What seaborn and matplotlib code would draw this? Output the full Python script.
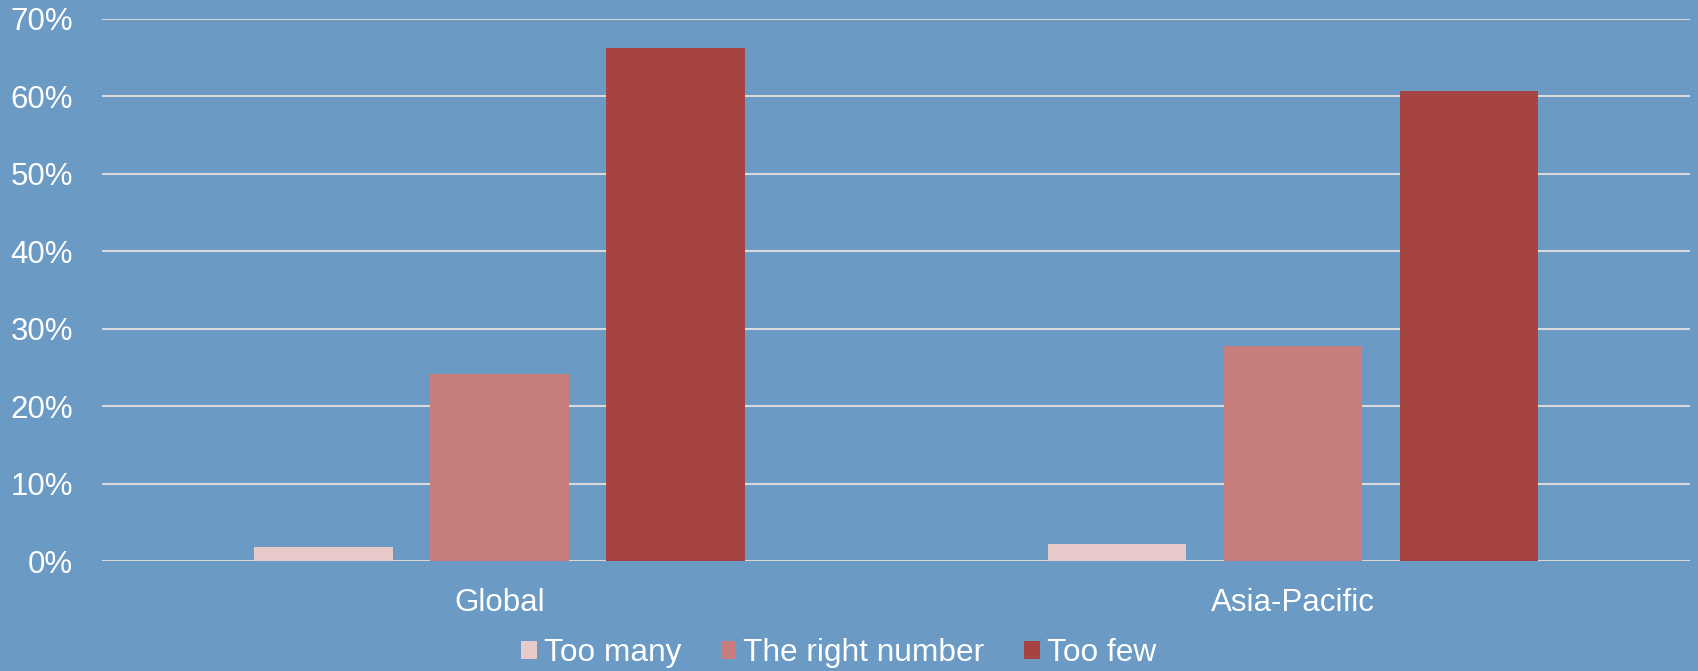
import matplotlib
matplotlib.use("Agg")
import matplotlib.pyplot as plt
from matplotlib.ticker import PercentFormatter, MultipleLocator
import seaborn as sns
import pandas as pd

# Survey results: share of respondents by region
regions = ["Global", "Asia-Pacific"]
answers = ["Too many", "The right number", "Too few"]
too_many = [0.019, 0.0225]
right_number = [0.242, 0.278]
too_few = [0.663, 0.607]
palette = ["#E8CACA", "#C97E7E", "#A64442"]

df = pd.DataFrame({
    "region": regions * 3,
    "answer": [a for a in answers for _ in regions],
    "share": too_many + right_number + too_few,
})

bg = "#6B9AC4"
sns.set_theme(style="white")
plt.rcParams["font.family"] = ["Liberation Sans", "DejaVu Sans"]

fig = plt.figure(figsize=(16.98, 6.71), dpi=100, facecolor=bg)
ax = fig.add_axes([0.0603, 0.1632, 0.9350, 0.8085])
ax.set_facecolor(bg)

sns.barplot(data=df, x="region", y="share", hue="answer",
            hue_order=answers, order=regions, palette=palette,
            width=0.665, gap=0.213, saturation=1, ax=ax, zorder=3,
            linewidth=0)

ax.set_xlim(-0.5, 1.5)
ax.set_ylim(0, 0.70)
ax.yaxis.set_major_locator(MultipleLocator(0.10))
ax.yaxis.set_major_formatter(PercentFormatter(xmax=1, decimals=0))
ax.grid(axis="y", color="#D9D9D9", linewidth=1.5, zorder=0)
ax.set_axisbelow(True)
for s in ax.spines.values():
    s.set_visible(False)
ax.set_xlabel("")
ax.set_ylabel("")
ax.tick_params(axis="y", length=0, pad=21, labelsize=22.5, labelcolor="white")
ax.tick_params(axis="x", length=0, pad=19, labelsize=22.5, labelcolor="white")

handles, labels = ax.get_legend_handles_labels()
ax.get_legend().remove()
leg = fig.legend(handles, labels, loc="center", bbox_to_anchor=(0.4938, 0.027),
                 ncol=3, frameon=False, fontsize=22.8,
                 handlelength=0.5, handleheight=0.5, handletextpad=0.22,
                 columnspacing=1.25, borderaxespad=0, borderpad=0)
for t in leg.get_texts():
    t.set_color("white")

fig.savefig("out.png", dpi=100, facecolor=bg)
